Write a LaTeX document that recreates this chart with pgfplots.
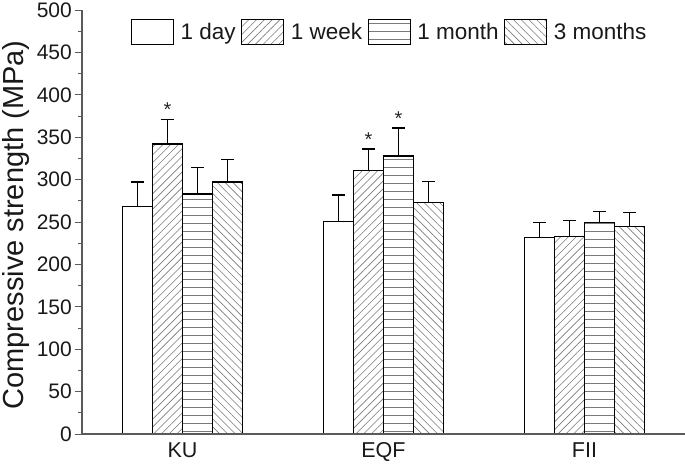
\documentclass[border=0pt]{standalone}
\usepackage{fontspec}
\setmainfont{Liberation Sans}
\usepackage{pgfplots}
\usepackage{pgfplotstable}
\pgfplotsset{compat=1.18}
\usetikzlibrary{patterns.meta}
\definecolor{axgray}{HTML}{5A5A5A}
\definecolor{hatch}{HTML}{7A7A7A}

\pgfplotstableread{
x y e
1 268 29
2 251 31
3 232 17
}\dday
\pgfplotstableread{
x y e
1 342 29
2 311 25
3 233 19
}\dweek
\pgfplotstableread{
x y e
1 283 31
2 328 33
3 249 13
}\dmonth
\pgfplotstableread{
x y e
1 297 27
2 273 25
3 245 16
}\dthree

\begin{document}
\begin{tikzpicture}
\begin{axis}[
  scale only axis,
  width=603pt, height=424pt,
  xmin=0.5, xmax=3.5,
  ymin=0, ymax=500,
  axis lines=left,
  axis on top,
  axis line style={-, axgray, line width=1.2pt},
  ybar=0pt,
  bar width=30pt,
  xtick={1,2,3},
  xticklabels={KU,EQF,FII},
  xtick style={draw=none},
  ytick={0,50,...,500},
  minor y tick num=1,
  tick align=outside,
  ytick style={axgray, line width=0.8pt},
  major tick length=7pt,
  minor tick length=4pt,
  yticklabel style={font=\fontsize{21}{24}\selectfont, inner xsep=3pt, text=black!90},
  xticklabel style={font=\fontsize{21.5}{24}\selectfont, yshift=2pt, text=black!90},
  /pgf/number format/assume math mode=true,
  ylabel={Compressive strength (MPa)},
  every axis y label/.style={at={([xshift=-58pt, yshift=-3pt]axis description cs:0,0.5)}, rotate=90, anchor=base,
    font=\fontsize{29}{32}\selectfont, text=black!90},
  legend columns=4,
  legend style={draw=none, fill=none, at={(0.514,1)}, anchor=north, yshift=-9pt,
    inner sep=0pt, font=\fontsize{22.5}{26}\selectfont,
    nodes={inner xsep=6.5pt, inner ysep=1pt, text=black!90},
    /tikz/every even column/.append style={column sep=-1pt}},
  legend image code/.code={\draw[#1, line width=1.2pt] (0pt,-12.5pt) rectangle (42pt,12.5pt);},
  every axis plot/.append style={line width=1.3pt},
  error bars/error bar style={line width=1.3pt, black},
  error bars/error mark options={rotate=90, mark size=6.5pt, line width=1.3pt, black},
]
\addplot[draw=black, fill=white, bar shift=-45pt,
  error bars/.cd, y dir=plus, y explicit]
  table[x=x, y=y, y error=e]{\dday};
\addlegendentry{1 day}
\addplot[draw=black, bar shift=-15pt,
  postaction={pattern={Lines[angle=45, distance=5.5pt, line width=0.6pt]}, pattern color=hatch},
  error bars/.cd, y dir=plus, y explicit]
  table[x=x, y=y, y error=e]{\dweek};
\addlegendentry{1 week}
\addplot[draw=black, bar shift=15pt,
  postaction={pattern={Lines[angle=0, distance=8pt, line width=0.6pt]}, pattern color=hatch},
  error bars/.cd, y dir=plus, y explicit]
  table[x=x, y=y, y error=e]{\dmonth};
\addlegendentry{1 month}
\addplot[draw=black, bar shift=45pt,
  postaction={pattern={Lines[angle=-45, distance=5.5pt, line width=0.6pt]}, pattern color=hatch},
  error bars/.cd, y dir=plus, y explicit]
  table[x=x, y=y, y error=e]{\dthree};
\addlegendentry{3 months}
% significance markers
\addplot[draw=none, fill=none, bar shift=-15pt, forget plot,
  nodes near coords, point meta=explicit symbolic,
  every node near coord/.append style={font=\fontsize{20}{22}\selectfont, anchor=south, inner sep=2pt, text=black!85}]
  coordinates {(1,371)[*] (2,336)[*]};
\addplot[draw=none, fill=none, bar shift=15pt, forget plot,
  nodes near coords, point meta=explicit symbolic,
  every node near coord/.append style={font=\fontsize{20}{22}\selectfont, anchor=south, inner sep=2pt, text=black!85}]
  coordinates {(2,361)[*]};
\end{axis}
\pgfresetboundingbox
\path (current axis.origin) ++(-82pt,-29pt) rectangle ++(685pt,463pt);
\end{tikzpicture}
\end{document}
